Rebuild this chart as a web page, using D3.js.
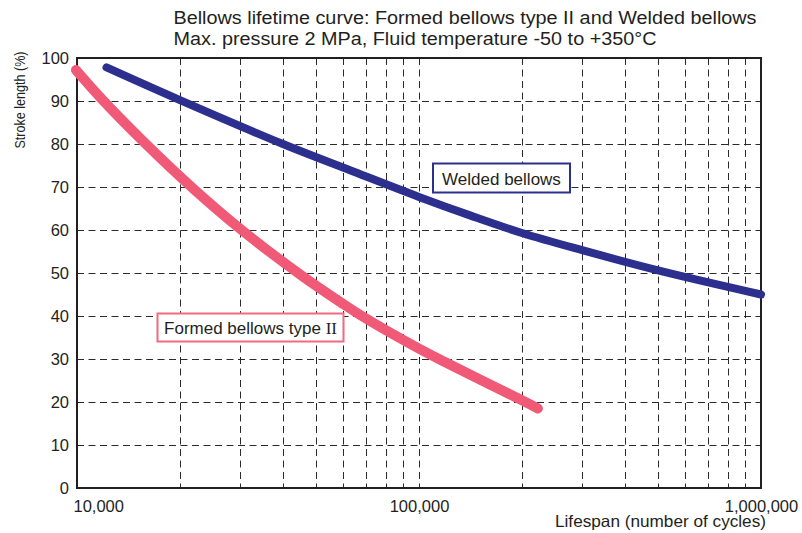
<!DOCTYPE html>
<html><head><meta charset="utf-8">
<script src="https://cdn.jsdelivr.net/npm/d3@7"></script>
<style>
body{margin:0;background:#fff;}
svg text{font-family:"Liberation Sans",Arial,sans-serif;fill:#231f20;}
</style></head>
<body><svg id="c" width="802" height="533"></svg>
<script>
// ---- data ----
const titleLines = ["Bellows lifetime curve: Formed bellows type II and Welded bellows",
                    "Max. pressure 2 MPa, Fluid temperature -50 to +350\u00B0C"];
const xTicks = [10000, 100000, 1000000];
const yTicks = [0,10,20,30,40,50,60,70,80,90,100];
const xGrid = [20000,30000,40000,50000,60000,70000,80000,90000,100000,
               200000,300000,400000,500000,600000,700000,800000,900000];
const weldedCycles = [12200,20000,40000,62850,100000,141000,200000,300000,500000,1000000];
const weldedStroke = [97.8,90.2,80,73.9,67.7,63.4,59.3,55.3,50.6,45];
const formedCycles = [9930,11830,15810,21690,29770,45190,60000,70000,100000,119000,200000,222600];
const formedStroke = [97.2,90.4,80.2,69.9,60.5,49.5,42.8,39.4,32.4,29.3,20.4,18.5];

// ---- layout ----
const L=77, R=761, T=58, B=488;
const svg = d3.select("#c");
const x = d3.scaleLog().domain([10000,1000000]).range([L,R]);
const y = d3.scaleLinear().domain([0,100]).range([B,T]);
const ink = "#231f20";
const crisp = v => Math.round(v)+0.5;

// grid
svg.append("g").selectAll("line").data(xGrid).join("line")
  .attr("x1",d=>crisp(x(d))).attr("x2",d=>crisp(x(d))).attr("y1",T).attr("y2",B)
  .attr("stroke","#2a2a2a").attr("stroke-width",1).attr("stroke-dasharray","7,4.5");
svg.append("g").selectAll("line").data(yTicks.filter(d=>d>0&&d<100)).join("line")
  .attr("x1",L).attr("x2",R).attr("y1",d=>crisp(y(d))).attr("y2",d=>crisp(y(d)))
  .attr("stroke","#2a2a2a").attr("stroke-width",1).attr("stroke-dasharray","7,4.5");

// frame
svg.append("rect").attr("x",L).attr("y",T).attr("width",R-L).attr("height",B-T)
  .attr("fill","none").attr("stroke",ink).attr("stroke-width",2);

// axes
const xAxis = svg.append("g").attr("transform",`translate(0,${B})`)
  .call(d3.axisBottom(x).tickValues(xTicks).tickSize(0).tickPadding(12).tickFormat(d3.format(",")));
xAxis.select(".domain").remove();
xAxis.selectAll("text").attr("font-size",16.5).attr("fill",ink)
  .style("font-family",'"Liberation Sans",Arial,sans-serif');
xAxis.selectAll("text").filter(d=>d===10000).attr("text-anchor","start").attr("x",-4);

const yAxis = svg.append("g").attr("transform",`translate(${L},0)`)
  .call(d3.axisLeft(y).tickValues(yTicks).tickSize(0).tickPadding(8));
yAxis.select(".domain").remove();
yAxis.selectAll("text").attr("font-size",16.5).attr("fill",ink)
  .style("font-family",'"Liberation Sans",Arial,sans-serif');

// titles
const titleLen = [583, 483];
svg.selectAll("text.title").data(titleLines).join("text").attr("class","title")
  .attr("x",173.5).attr("y",(d,i)=>23.5+i*21).attr("font-size",17.5)
  .attr("textLength",(d,i)=>titleLen[i]).attr("lengthAdjust","spacingAndGlyphs")
  .text(d=>d);

svg.append("text").attr("x",766).attr("y",526.5).attr("text-anchor","end")
  .attr("font-size",16.5).attr("textLength",211).attr("lengthAdjust","spacingAndGlyphs")
  .text("Lifespan (number of cycles)");

svg.append("text").attr("transform","translate(25,100) rotate(-90)")
  .attr("text-anchor","middle").attr("font-size",15.5)
  .attr("textLength",97).attr("lengthAdjust","spacingAndGlyphs")
  .text("Stroke length (%)");

// curves
const line = d3.line().x(d=>x(d[0])).y(d=>y(d[1])).curve(d3.curveCatmullRom.alpha(0.5));
svg.append("path").datum(d3.zip(weldedCycles,weldedStroke)).attr("d",line)
  .attr("fill","none").attr("stroke","#2d2f8e").attr("stroke-width",8)
  .attr("stroke-linecap","round").attr("stroke-linejoin","round");
svg.append("path").datum(d3.zip(formedCycles,formedStroke)).attr("d",line)
  .attr("fill","none").attr("stroke","#f05a77").attr("stroke-width",10)
  .attr("stroke-linecap","round").attr("stroke-linejoin","round");

// labels
svg.append("rect").attr("x",433).attr("y",163.5).attr("width",137).attr("height",29)
  .attr("fill","#fff").attr("stroke","#2d2f8e").attr("stroke-width",2);
svg.append("text").attr("x",501.5).attr("y",184.5).attr("text-anchor","middle")
  .attr("font-size",17).text("Welded bellows");

svg.append("rect").attr("x",157.5).attr("y",313.5).attr("width",186).attr("height",28)
  .attr("fill","#fff").attr("stroke","#f06a80").attr("stroke-width",2);
const ft = svg.append("text").attr("x",250.5).attr("y",334).attr("text-anchor","middle")
  .attr("font-size",17);
ft.append("tspan").text("Formed bellows type ");
ft.append("tspan").style("font-family",'"Liberation Serif","Times New Roman",serif').text("II");
</script></body></html>
